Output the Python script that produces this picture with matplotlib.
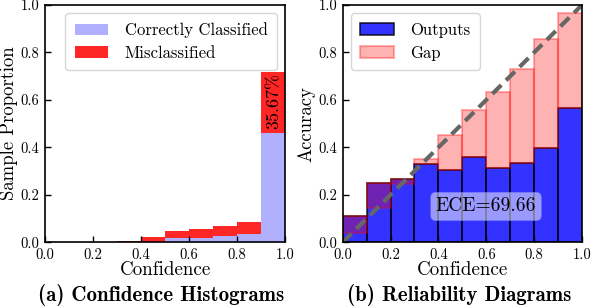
import matplotlib
matplotlib.use("Agg")
import matplotlib.pyplot as plt
import numpy as np

plt.rcParams['font.family'] = ['cmr10', 'DejaVu Serif']
plt.rcParams['mathtext.fontset'] = 'cm'
plt.rcParams['axes.unicode_minus'] = False
plt.rcParams['axes.formatter.use_mathtext'] = True

# ---- data ----
bin_lefts = [0.0, 0.1, 0.2, 0.3, 0.4, 0.5, 0.6, 0.7, 0.8, 0.9]
correct_prop = [0.0, 0.0, 0.0, 0.0, 0.003, 0.017, 0.019, 0.025, 0.034, 0.462]
miscls_prop = [0.0, 0.0, 0.0, 0.004, 0.019, 0.031, 0.037, 0.044, 0.053, 0.256]
miscls_label = "35.67%"

accuracy = [0.111, 0.250, 0.266, 0.332, 0.306, 0.359, 0.313, 0.335, 0.396, 0.568]
confidence = [0.038, 0.146, 0.246, 0.353, 0.453, 0.558, 0.635, 0.730, 0.858, 0.966]
ece_label = "ECE=69.66"

ticks = [0.0, 0.2, 0.4, 0.6, 0.8, 1.0]
tick_labels = ["0.0", "0.2", "0.4", "0.6", "0.8", "1.0"]

W, H = 592, 306
fig = plt.figure(figsize=(W / 100, H / 100), dpi=100)

ax1 = fig.add_axes([45 / W, 1 - 242.3 / H, 240 / W, 237.3 / H])
ax2 = fig.add_axes([342.7 / W, 1 - 242.3 / H, 239.3 / W, 237.3 / H])

width = 0.1
corr_color = (0.69, 0.69, 1.0)
mis_color = (1.0, 0.15, 0.15)

ax1.bar(bin_lefts, correct_prop, width=width, align='edge', color=corr_color,
        linewidth=0, label='Correctly Classified')
ax1.bar(bin_lefts, miscls_prop, width=width, align='edge', bottom=correct_prop,
        color=mis_color, linewidth=0, label='Misclassified')
ax1.text(bin_lefts[-1] + width / 2 + 0.005, correct_prop[-1] + miscls_prop[-1] / 2 + 0.005,
         miscls_label, rotation=90, ha='center', va='center', fontsize=13,
         color='black')

# Reliability diagram
ax2.bar(bin_lefts, accuracy, width=width, align='edge', color='blue', alpha=0.8,
        edgecolor='black', linewidth=1.2, label='Outputs')
gap = [c - a for c, a in zip(confidence, accuracy)]
ax2.bar(bin_lefts, gap, width=width, align='edge', bottom=accuracy,
        color=(1, 0, 0), alpha=0.3, edgecolor=(1, 0, 0), linewidth=1.5,
        label='Gap')
ax2.plot([0, 1], [0, 1], linestyle='--', color=(0.4, 0.4, 0.4), linewidth=3,
         dashes=(3, 1.6))
ax2.text(0.599, 0.151, ece_label, ha='center', va='center', fontsize=14,
         bbox=dict(boxstyle='round,pad=0.25', facecolor='white', alpha=0.5,
                   edgecolor=(0.6, 0.6, 1.0)))

for ax, ylabel in [(ax1, 'Sample Proportion'), (ax2, 'Accuracy')]:
    ax.set_xlim(0, 1)
    ax.set_ylim(0, 1)
    ax.set_xticks(ticks)
    ax.set_xticklabels(tick_labels)
    ax.set_yticks(ticks)
    ax.set_yticklabels(tick_labels)
    ax.tick_params(direction='in', labelsize=10.5, length=4, width=1, pad=4)
    for s in ax.spines.values():
        s.set_linewidth(1.2)
    ax.set_xlabel('Confidence', fontsize=13.7, labelpad=0)
    ax.set_ylabel(ylabel, fontsize=13.5, labelpad=2)

ax1.legend(loc='upper right', fontsize=12, handlelength=2.0, borderpad=0.55,
           labelspacing=0.45, handletextpad=1.0, fancybox=True, framealpha=0.8)
ax2.legend(loc='upper left', fontsize=12, handlelength=2.0, borderpad=0.55,
           labelspacing=0.45, handletextpad=1.0, fancybox=True, framealpha=0.8)

fig.text(161 / W, 1 - 294.5 / H, '(a) Confidence Histograms', family='cmb10',
         fontsize=15, ha='center', va='center')
fig.text(459 / W, 1 - 294.5 / H, '(b) Reliability Diagrams', family='cmb10',
         fontsize=15, ha='center', va='center')

fig.savefig('out.png', dpi=100)
